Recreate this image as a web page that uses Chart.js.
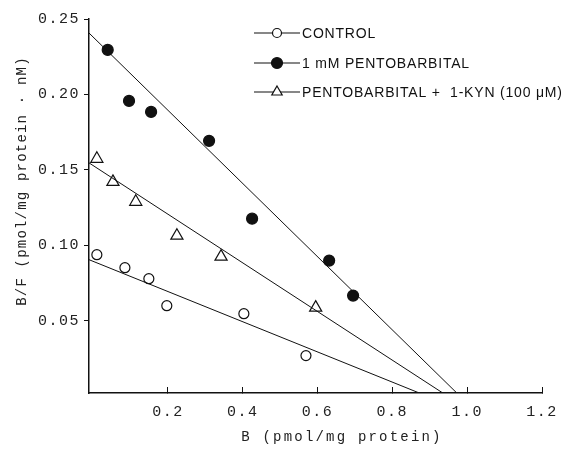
<!DOCTYPE html>
<html>
<head>
<meta charset="utf-8">
<script src="https://cdn.jsdelivr.net/npm/chart.js@4.4.1/dist/chart.umd.min.js"></script>
<style>
    html, body { margin: 0; padding: 0; background: #fff; }
    #wrap { width: 582px; height: 450px; }
</style>
</head>
<body>
<div id="wrap"><canvas id="chart" width="582" height="450"></canvas></div>
<script>
// Scatchard data: B (pmol/mg protein) vs B/F
const controlB = [0.010, 0.085, 0.149, 0.197, 0.403, 0.569];
const controlBF = [0.0937, 0.0851, 0.0778, 0.0599, 0.0546, 0.0268];

const pentoB = [0.039, 0.096, 0.155, 0.310, 0.425, 0.631, 0.695];
const pentoBF = [0.2295, 0.1957, 0.1884, 0.1692, 0.1176, 0.0898, 0.0666];

const kynB = [0.010, 0.053, 0.114, 0.224, 0.342, 0.595];
const kynBF = [0.1573, 0.1420, 0.1288, 0.1063, 0.0924, 0.0586];

// fitted lines: [start, end] from the y axis down to the x axis
const controlFitB = [-0.011, 0.869];
const controlFitBF = [0.0904, 0.0023];
const pentoFitB = [-0.011, 0.971];
const pentoFitBF = [0.2407, 0.0023];
const kynFitB = [-0.011, 0.933];
const kynFitBF = [0.1546, 0.0023];

const xTicks = [0.2, 0.4, 0.6, 0.8, 1.0, 1.2];
const yTicks = [0.05, 0.10, 0.15, 0.20, 0.25];

const legendLabels = ['CONTROL', '1 mM PENTOBARBITAL', 'PENTOBARBITAL +  1-KYN (100 \u03BCM)'];
const xTitle = 'B (pmol/mg protein)';
const yTitle = 'B/F (pmol/mg protein \u00B7 nM)';

const toPoints = (xs, ys) => xs.map((x, i) => ({ x, y: ys[i] }));

const fitLine = (xs, ys) => ({
    type: 'line',
    data: toPoints(xs, ys),
    borderColor: '#111',
    borderWidth: 1,
    pointRadius: 0,
    fill: false,
    tension: 0,
});

const markers = (xs, ys, style, radius, fill) => ({
    type: 'scatter',
    data: toPoints(xs, ys),
    pointStyle: style,
    pointRadius: radius,
    pointHoverRadius: radius,
    pointBackgroundColor: fill,
    pointBorderColor: '#111',
    pointBorderWidth: 1.2,
});

const MONO = "'Liberation Mono', 'DejaVu Sans Mono', monospace";

const paperText = {
    id: 'paperText',
    beforeDraw(chart) {
        chart.ctx.letterSpacing = '1.5px';
    },
    afterDraw(chart) {
        const { ctx } = chart;

        // axis titles
        ctx.save();
        ctx.fillStyle = '#222';
        ctx.font = '14px ' + MONO;
        ctx.textAlign = 'center';
        ctx.textBaseline = 'middle';
        ctx.letterSpacing = '2.2px';
        ctx.fillText(xTitle, 342, 437);
        ctx.translate(22, 181);
        ctx.rotate(-Math.PI / 2);
        ctx.letterSpacing = '1.2px';
        ctx.fillText(yTitle, 0, 0);
        ctx.restore();

        // legend
        ctx.save();
        ctx.strokeStyle = '#111';
        ctx.fillStyle = '#111';
        ctx.lineWidth = 1.2;
        const rows = [33, 63, 92];
        rows.forEach((y, i) => {
            ctx.beginPath();
            ctx.moveTo(254, y);
            ctx.lineTo(300, y);
            ctx.stroke();

            ctx.beginPath();
            if (i === 2) {
                const r = 6;
                ctx.moveTo(277, y - r);
                ctx.lineTo(277 + r * 0.866, y + r / 2);
                ctx.lineTo(277 - r * 0.866, y + r / 2);
                ctx.closePath();
            } else {
                ctx.arc(277, y, i === 0 ? 4.5 : 5.5, 0, Math.PI * 2);
            }
            ctx.fillStyle = i === 1 ? '#111' : '#fff';
            ctx.fill();
            ctx.stroke();

            ctx.fillStyle = '#111';
            ctx.font = "14px 'Liberation Sans', Arial, sans-serif";
            ctx.letterSpacing = '0.8px';
            ctx.textAlign = 'left';
            ctx.textBaseline = 'middle';
            ctx.fillText(legendLabels[i], 302, y + 1);
        });
        ctx.restore();
    },
};

new Chart(document.getElementById('chart'), {
    type: 'scatter',
    data: {
        datasets: [
            fitLine(controlFitB, controlFitBF),
            fitLine(pentoFitB, pentoFitBF),
            fitLine(kynFitB, kynFitBF),
            markers(controlB, controlBF, 'circle', 5, '#fff'),
            markers(pentoB, pentoBF, 'circle', 5.5, '#111'),
            markers(kynB, kynBF, 'triangle', 7, '#fff'),
        ],
    },
    options: {
        responsive: false,
        animation: false,
        layout: { padding: { left: 0, right: 40, top: 19, bottom: 0 } },
        plugins: {
            legend: { display: false },
            tooltip: { enabled: false },
        },
        scales: {
            x: {
                type: 'linear',
                min: -0.011,
                max: 1.2,
                afterFit: (scale) => { scale.height = 57; },
                afterBuildTicks: (scale) => { scale.ticks = xTicks.map((value) => ({ value })); },
                grid: {
                    drawOnChartArea: false,
                    tickLength: -6,
                    color: '#111',
                    tickColor: '#111',
                },
                border: { color: '#111', width: 1.5 },
                ticks: {
                    padding: 16,
                    color: '#222',
                    font: { family: MONO, size: 15 },
                    callback: (value) => value.toFixed(1),
                },
            },
            y: {
                type: 'linear',
                min: 0.002,
                max: 0.25,
                afterFit: (scale) => { scale.width = 89; },
                afterBuildTicks: (scale) => { scale.ticks = yTicks.map((value) => ({ value })); },
                grid: {
                    drawOnChartArea: false,
                    tickLength: 5,
                    color: '#111',
                    tickColor: '#111',
                },
                border: { color: '#111', width: 1.5 },
                ticks: {
                    padding: 4,
                    color: '#222',
                    font: { family: MONO, size: 15 },
                    callback: (value) => value.toFixed(2),
                },
            },
        },
    },
    plugins: [paperText],
});
</script>
</body>
</html>
